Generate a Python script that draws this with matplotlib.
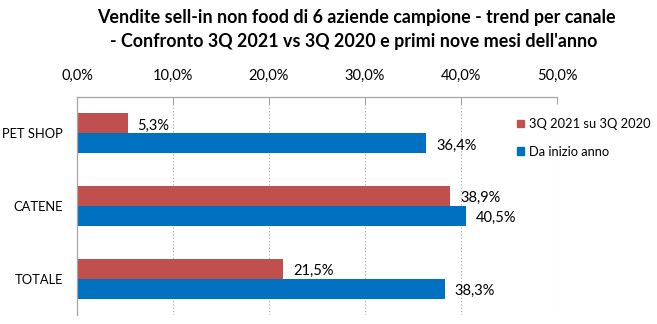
import matplotlib.pyplot as plt
import numpy as np
from matplotlib.patches import Patch

plt.rcParams['font.family'] = ['Lato', 'DejaVu Sans']

categories = ['PET SHOP', 'CATENE', 'TOTALE']
q3_vs_q3 = [5.3, 38.9, 21.5]
ytd = [36.4, 40.5, 38.3]
series_names = ['3Q 2021 su 3Q 2020', 'Da inizio anno']
xticks = [0, 10, 20, 30, 40, 50]

red = '#C0504D'
blue = '#0070C0'
grid_col = '#A6A6A6'
fs = 10.5


def fmt(v):
    return '{:.1f}%'.format(v).replace('.', ',')


fig = plt.figure(figsize=(6.57, 3.24), dpi=100)
ax = fig.add_axes([77 / 657, 1 - 315 / 324, 480 / 657, 218 / 324])

y = np.arange(len(categories))
h = 0.275
ax.barh(y - h / 2, q3_vs_q3, height=h, color=red)
ax.barh(y + h / 2, ytd, height=h, color=blue)

# value labels right of each bar
for yi, v in zip(y - h / 2, q3_vs_q3):
    ax.text(v + 1.0, yi + 0.03, fmt(v), va='center', ha='left', fontsize=fs)
for yi, v in zip(y + h / 2, ytd):
    ax.text(v + 1.0, yi + 0.03, fmt(v), va='center', ha='left', fontsize=fs)

ax.set_xlim(0, 50)
ax.set_ylim(2.5, -0.5)
ax.set_yticks(y)
ax.set_yticklabels(categories, fontsize=9.3)
ax.set_xticks(xticks)
ax.set_xticklabels([fmt(t) for t in xticks], fontsize=fs)
ax.xaxis.tick_top()
ax.tick_params(axis='x', direction='in', length=5, color=grid_col, pad=10)
ax.tick_params(axis='y', length=0, pad=10)

for x in xticks[1:]:
    ax.axvline(x, color=grid_col, lw=0.8, ls=(0, (1, 2)), zorder=0)

for s in ['right', 'bottom']:
    ax.spines[s].set_visible(False)
for s in ['top', 'left']:
    ax.spines[s].set_color(grid_col)
    ax.spines[s].set_linewidth(0.9)

handles = [Patch(color=red), Patch(color=blue)]
fig.legend(handles, series_names, loc='upper left', bbox_to_anchor=(517 / 657, 1 - 118 / 324),
           frameon=False, fontsize=9.3, handlelength=0.55, handleheight=0.55,
           handletextpad=0.35, labelspacing=1.2, borderpad=0, borderaxespad=0)

fig.text(356 / 657, 1 - 18 / 324, 'Vendite sell-in non food di 6 aziende campione - trend per canale',
         ha='center', va='center', fontsize=12.9, fontweight='bold')
fig.text(354 / 657, 1 - 42 / 324, "- Confronto 3Q 2021 vs 3Q 2020 e primi nove mesi dell'anno",
         ha='center', va='center', fontsize=12.9, fontweight='bold')

fig.savefig('out.png', dpi=100)
